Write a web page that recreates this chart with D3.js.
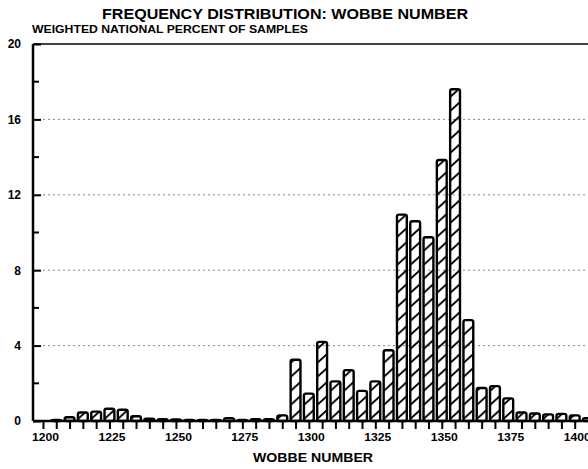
<!DOCTYPE html>
<html>
<head>
<meta charset="utf-8">
<script src="https://cdn.jsdelivr.net/npm/d3@7"></script>
<style>
  body { margin: 0; background: #fff; }
  text { font-family: "Liberation Sans", Arial, sans-serif; font-weight: bold; fill: #000; }
</style>
</head>
<body>
<script>
// wobbe number bins (centre of each 5-unit class)
var wobbe = [1200, 1205, 1210, 1215, 1220, 1225, 1230, 1235, 1240, 1245,
             1250, 1255, 1260, 1265, 1270, 1275, 1280, 1285, 1290, 1295,
             1300, 1305, 1310, 1315, 1320, 1325, 1330, 1335, 1340, 1345,
             1350, 1355, 1360, 1365, 1370, 1375, 1380, 1385, 1390, 1395,
             1400, 1405];
// weighted national percent of samples
var percent = [0, 0.05, 0.2, 0.45, 0.5, 0.65, 0.6, 0.25, 0.12, 0.1,
               0.08, 0.05, 0.05, 0.05, 0.15, 0.05, 0.1, 0.1, 0.3, 3.25,
               1.45, 4.2, 2.1, 2.7, 1.6, 2.1, 3.75, 10.95, 10.6, 9.75,
               13.85, 17.6, 5.35, 1.75, 1.85, 1.2, 0.45, 0.4, 0.35, 0.38,
               0.3, 0.15];
var xLabels = [1200, 1225, 1250, 1275, 1300, 1325, 1350, 1375, 1400];
var yMajor = [0, 4, 8, 12, 16, 20];
var yMinor = [2, 6, 10, 14, 18];
var yGrid = [4, 8, 12, 16];

var dataset = wobbe.map(function(d, i) { return {w: d, p: percent[i]}; });

var w = 588, h = 469;
var pLeft = 33, pRight = 588, pTop = 44, pBottom = 421;

var svg = d3.select("body")
			.append("svg")
			.attr("width", w)
			.attr("height", h);

var x = d3.scaleLinear().domain([1196.25, 1405]).range([pLeft, pRight]);
var y = d3.scaleLinear().domain([0, 20]).range([pBottom, pTop]);

var step = x(1205) - x(1200);
var bw = step * 0.74;
var hatchH = 14, rise = 9;

// hatch pattern, aligned so every bar gets the same stripes
var pat = svg.append("defs").append("pattern")
	.attr("id", "hatch")
	.attr("patternUnits", "userSpaceOnUse")
	.attr("x", x(1200) - bw / 2)
	.attr("y", pBottom)
	.attr("width", step)
	.attr("height", hatchH);
[-hatchH, 0, hatchH].forEach(function(off) {
	pat.append("line")
		.attr("x1", 0).attr("y1", hatchH - 2 + off)
		.attr("x2", bw).attr("y2", hatchH - 2 - rise + off)
		.attr("stroke", "#000").attr("stroke-width", 1.7);
});

// grid lines
svg.selectAll("line.grid")
	.data(yGrid)
	.enter()
	.append("line")
	.attr("class", "grid")
	.attr("x1", pLeft)
	.attr("x2", pRight)
	.attr("y1", function(d) { return y(d); })
	.attr("y2", function(d) { return y(d); })
	.attr("stroke", "#888")
	.attr("stroke-width", 1)
	.attr("stroke-dasharray", "2,3");

// bars
svg.selectAll("rect.bar")
	.data(dataset)
	.enter()
	.append("rect")
	.attr("class", "bar")
	.attr("x", function(d) { return x(d.w) - bw / 2; })
	.attr("y", function(d) { return y(d.p); })
	.attr("width", bw)
	.attr("height", function(d) { return pBottom - y(d.p); })
	.attr("rx", 2)
	.attr("fill", "url(#hatch)")
	.attr("stroke", "#000")
	.attr("stroke-width", 2.4);

// frame top
svg.append("line")
	.attr("x1", pLeft).attr("x2", pRight)
	.attr("y1", pTop).attr("y2", pTop)
	.attr("stroke", "#000").attr("stroke-width", 1.6);

// x axis
var xAxis = d3.axisBottom(x)
	.tickValues(wobbe.filter(function(d) { return d <= 1400; }))
	.tickSize(8)
	.tickFormat(function(d) { return xLabels.indexOf(d) >= 0 ? d : ""; });

var gx = svg.append("g")
	.attr("transform", "translate(0," + pBottom + ")")
	.call(xAxis);
gx.select(".domain").attr("stroke", "#000").attr("stroke-width", 2.5)
	.attr("d", "M" + pLeft + ",0H" + pRight);
gx.selectAll(".tick line").attr("stroke", "#000").attr("stroke-width", 2);
gx.selectAll(".tick text")
	.attr("y", 12)
	.attr("dx", 2)
	.attr("font-size", "11px")
	.attr("font-family", "Liberation Sans, Arial, sans-serif")
	.attr("font-weight", "bold")
	.attr("textLength", 27)
	.attr("lengthAdjust", "spacingAndGlyphs");

// y axis
var yAxis = d3.axisLeft(y)
	.tickValues(yMajor)
	.tickSize(-8)
	.tickFormat(d3.format("d"));

var gy = svg.append("g")
	.attr("transform", "translate(" + pLeft + ",0)")
	.call(yAxis);
gy.select(".domain").attr("stroke", "#000").attr("stroke-width", 2.5)
	.attr("d", "M0," + pBottom + "V" + pTop);
gy.selectAll(".tick line").attr("stroke", "#000").attr("stroke-width", 2);
gy.selectAll(".tick text")
	.attr("x", -12)
	.attr("font-size", "12px")
	.attr("font-family", "Liberation Sans, Arial, sans-serif")
	.attr("font-weight", "bold");

svg.selectAll("line.minor")
	.data(yMinor)
	.enter()
	.append("line")
	.attr("class", "minor")
	.attr("x1", pLeft)
	.attr("x2", pLeft + 6)
	.attr("y1", function(d) { return y(d); })
	.attr("y2", function(d) { return y(d); })
	.attr("stroke", "#000")
	.attr("stroke-width", 2);

// titles
svg.append("text")
	.attr("x", 102).attr("y", 19)
	.attr("font-size", "15px")
	.attr("textLength", 366)
	.attr("lengthAdjust", "spacingAndGlyphs")
	.text("FREQUENCY DISTRIBUTION: WOBBE NUMBER");

svg.append("text")
	.attr("x", 32).attr("y", 33)
	.attr("font-size", "11px")
	.attr("textLength", 276)
	.attr("lengthAdjust", "spacingAndGlyphs")
	.text("WEIGHTED NATIONAL PERCENT OF SAMPLES");

svg.append("text")
	.attr("x", 253).attr("y", 462)
	.attr("font-size", "12px")
	.attr("textLength", 120)
	.attr("lengthAdjust", "spacingAndGlyphs")
	.text("WOBBE NUMBER");
</script>
</body>
</html>
